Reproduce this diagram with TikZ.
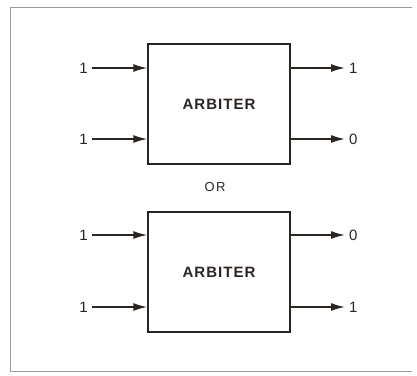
\documentclass[tikz,border=0pt]{standalone}
\usepackage{fontspec}
\setsansfont{Liberation Sans}
\usetikzlibrary{arrows.meta,positioning,calc}
\definecolor{Ink}{HTML}{2B2521}
\definecolor{Frame}{HTML}{9A9A9A}

\begin{document}
\begin{tikzpicture}[
  x=1pt,y=-1pt,
  every node/.style={font=\sffamily,text=Ink},
  arbiter/.style={draw=Ink,line width=1.4pt,minimum width=142pt,minimum height=120pt,
    font=\fontsize{15}{18}\sffamily\bfseries\addfontfeatures{LetterSpace=7}},
  lbl/.style={font=\fontsize{15}{17}\sffamily,inner ysep=1.5pt,inner xsep=4pt},
  arr/.style={-{Latex[length=14pt,width=8pt]},line width=1.5pt,color=Ink}
]
\useasboundingbox (0,0) rectangle (417,375);
\draw[Frame,line width=0.8pt] (412,7) -- (10,7) -- (10,371) -- (412,371);
% upper arbiter
\node[arbiter] (arb1) at (219,104) {ARBITER};
\node[lbl,anchor=east] (a1) at (92,68) {1};
\node[lbl,anchor=east] (b1) at (92,139) {1};
\node[lbl,anchor=west] (p1) at (345,68) {1};
\node[lbl,anchor=west] (q1) at (345,139) {0};
\draw[arr] (a1) -- (a1 -| arb1.west);
\draw[arr] (b1) -- (b1 -| arb1.west);
\draw[arr] (arb1.east |- p1) -- (p1);
\draw[arr] (arb1.east |- q1) -- (q1);
\node[font=\fontsize{13}{15}\sffamily\addfontfeatures{LetterSpace=10}] (or) at (215,187) {OR};
% lower arbiter
\node[arbiter] (arb2) at (219,272) {ARBITER};
\node[lbl,anchor=east] (a2) at (92,235) {1};
\node[lbl,anchor=east] (b2) at (92,307) {1};
\node[lbl,anchor=west] (p2) at (345,235) {0};
\node[lbl,anchor=west] (q2) at (345,307) {1};
\draw[arr] (a2) -- (a2 -| arb2.west);
\draw[arr] (b2) -- (b2 -| arb2.west);
\draw[arr] (arb2.east |- p2) -- (p2);
\draw[arr] (arb2.east |- q2) -- (q2);
\end{tikzpicture}
\end{document}
